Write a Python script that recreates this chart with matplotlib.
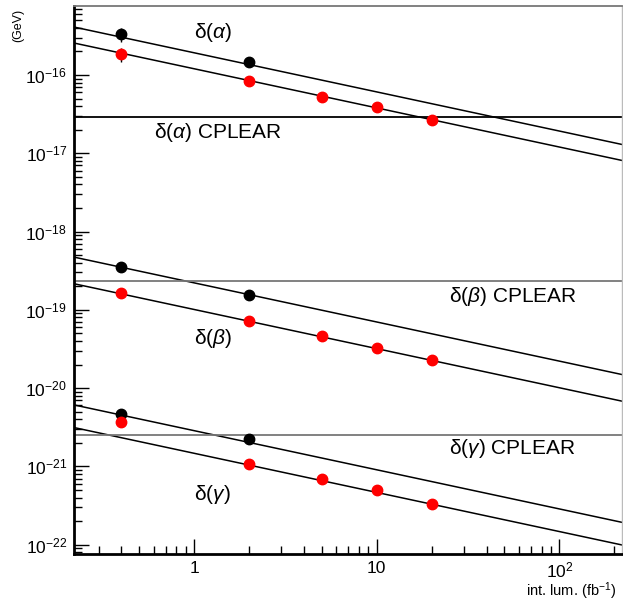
import numpy as np
import matplotlib
matplotlib.use('Agg')
import matplotlib.pyplot as plt
from matplotlib.ticker import FixedLocator, FixedFormatter, LogLocator, NullFormatter

plt.rcParams['font.family'] = ['Liberation Sans', 'DejaVu Sans']
plt.rcParams['mathtext.fontset'] = 'custom'
plt.rcParams['mathtext.rm'] = 'Liberation Sans'
plt.rcParams['mathtext.it'] = 'Liberation Sans:italic'

# integrated luminosity (fb^-1)
lum_black = [0.4, 2]
lum_red = [0.4, 2, 5, 10, 20]

# delta(alpha)
alpha_black = [3.3e-16, 1.45e-16]
alpha_black_err = [0.7e-16, 0.0]
alpha_red = [1.84e-16, 8.4e-17, 5.28e-17, 3.93e-17, 2.65e-17]
alpha_red_err = [0.38e-16, 0, 0, 0, 0]

# delta(beta)
beta_black = [3.49e-19, 1.56e-19]
beta_red = [1.62e-19, 7.2e-20, 4.58e-20, 3.28e-20, 2.3e-20]

# delta(gamma)
gamma_black = [4.72e-21, 2.21e-21]
gamma_red = [3.69e-21, 1.08e-21, 6.82e-22, 4.93e-22, 3.3e-22]

# 1/sqrt(L) fit normalisations (value at L = 1)
fit_black = [1.92e-16, 2.21e-19, 2.86e-21]
fit_red = [1.2e-16, 1.01e-19, 1.47e-21]

# CPLEAR limits
cplear = [2.93e-17, 2.32e-19, 2.51e-21]
cplear_col = ['black', '#777777', '#777777']

x_ticks = [1, 10, 100]
x_ticklabels = ['1', '10', r'$10^{2}$']
y_ticks = [1e-22, 1e-21, 1e-20, 1e-19, 1e-18, 1e-17, 1e-16]
y_ticklabels = [r'$10^{-22}$', r'$10^{-21}$', r'$10^{-20}$', r'$10^{-19}$',
                r'$10^{-18}$', r'$10^{-17}$', r'$10^{-16}$']

xmin, xmax = 0.22, 220
ymin, ymax = 7.6e-23, 7.6e-16

fig = plt.figure(figsize=(6.23, 6.01), dpi=100)
ax = fig.add_axes([74 / 623, 47 / 601, 548 / 623, 548 / 601])
ax.set_xscale('log')
ax.set_yscale('log')
ax.set_xlim(xmin, xmax)
ax.set_ylim(ymin, ymax)

xl = np.array([xmin, xmax])
for a in fit_black + fit_red:
    ax.plot(xl, a / np.sqrt(xl), color='black', lw=1.1)

for c, col in zip(cplear, cplear_col):
    ax.axhline(c, color=col, lw=1.3)

ms = 7.5
ax.errorbar(lum_black, alpha_black, yerr=alpha_black_err, fmt='o', color='black', ms=ms, elinewidth=1, capsize=0)
ax.errorbar(lum_red, alpha_red, yerr=alpha_red_err, fmt='o', color='red', ms=ms, ecolor='black', elinewidth=1, capsize=0)
ax.plot(lum_black, beta_black, 'o', color='black', ms=ms)
ax.plot(lum_red, beta_red, 'o', color='red', ms=ms)
ax.plot(lum_black, gamma_black, 'o', color='black', ms=ms)
ax.plot(lum_red, gamma_red, 'o', color='red', ms=ms)


def label(xp, yp, s):
    # position given in picture pixels of the left edge / vertical centre
    ax.text((xp - 74) / 548, (554 - yp) / 548, s, fontsize=15, ha='left', va='center',
            transform=ax.transAxes)


label(194, 32, r'$\mathrm{\delta}(\alpha)$')
label(154, 132, r'$\mathrm{\delta}(\alpha)$ CPLEAR')
label(449, 297, r'$\mathrm{\delta}(\beta)$ CPLEAR')
label(194, 338, r'$\mathrm{\delta}(\beta)$')
label(449, 448, r'$\mathrm{\delta}(\gamma)$ CPLEAR')
label(194, 495, r'$\mathrm{\delta}(\gamma)$')

fig.text(18 / 623, 1 - 25 / 601, '(GeV)', rotation=90, fontsize=9, ha='center', va='center')
fig.text(617 / 623, 1 - 591 / 601, r'int. lum. (fb$^{-1}$)', fontsize=10.5, ha='right', va='center')

ax.xaxis.set_major_locator(FixedLocator(x_ticks))
ax.xaxis.set_major_formatter(FixedFormatter(x_ticklabels))
ax.xaxis.set_minor_locator(LogLocator(base=10, subs=np.arange(2, 10), numticks=20))
ax.xaxis.set_minor_formatter(NullFormatter())
ax.yaxis.set_major_locator(FixedLocator(y_ticks))
ax.yaxis.set_major_formatter(FixedFormatter(y_ticklabels))
ax.yaxis.set_minor_locator(LogLocator(base=10, subs=np.arange(2, 10), numticks=40))
ax.yaxis.set_minor_formatter(NullFormatter())

ax.tick_params(which='both', direction='in', top=False, right=False, labelsize=12.5, width=1)
ax.tick_params(which='major', length=11)
ax.tick_params(axis='y', which='major', pad=5)
ax.tick_params(axis='x', which='major', pad=5)
ax.tick_params(which='minor', length=5.5)

ax.spines['left'].set_linewidth(2)
ax.spines['bottom'].set_linewidth(2)
ax.spines['top'].set_color('#777777')
ax.spines['top'].set_linewidth(1.3)
ax.spines['right'].set_color('#bbbbbb')
ax.spines['right'].set_linewidth(1)

fig.savefig('out.png', dpi=100)
